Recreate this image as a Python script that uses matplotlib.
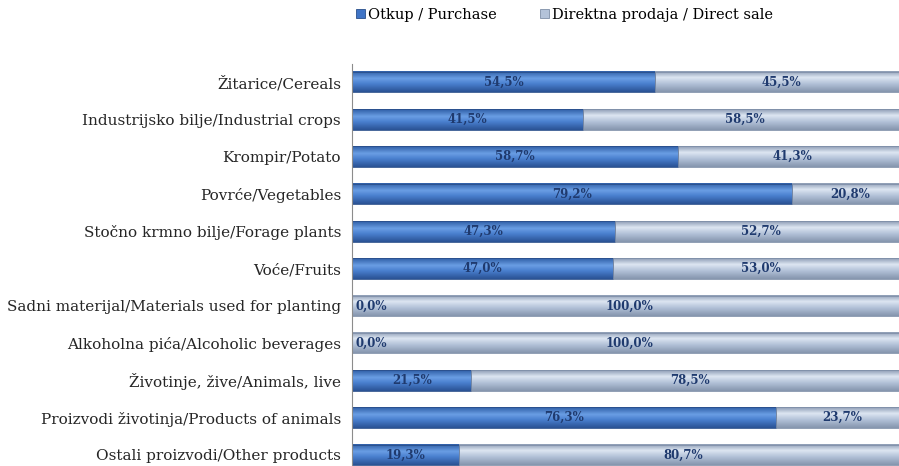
import matplotlib.pyplot as plt
import numpy as np
from matplotlib.colors import LinearSegmentedColormap

categories = ["Žitarice/Cereals", "Industrijsko bilje/Industrial crops", "Krompir/Potato",
              "Povrće/Vegetables", "Stočno krmno bilje/Forage plants", "Voće/Fruits",
              "Sadni materijal/Materials used for planting", "Alkoholna pića/Alcoholic beverages",
              "Životinje, žive/Animals, live", "Proizvodi životinja/Products of animals",
              "Ostali proizvodi/Other products"]
purchase = [54.5, 41.5, 58.7, 79.2, 47.3, 47.0, 0.0, 0.0, 21.5, 76.3, 19.3]
direct = [45.5, 58.5, 41.3, 20.8, 52.7, 53.0, 100.0, 100.0, 78.5, 23.7, 80.7]
series_names = ["Otkup / Purchase", "Direktna prodaja / Direct sale"]

plt.rcParams['font.family'] = ['DejaVu Serif', 'Liberation Serif']

# vertical gradients, top -> bottom
blue_cmap = LinearSegmentedColormap.from_list(
    "b", [(0, "#2f5ea6"), (0.35, "#6a9ee4"), (0.6, "#4a80cf"), (1, "#2a5294")])
gray_cmap = LinearSegmentedColormap.from_list(
    "g", [(0, "#8d9cb4"), (0.3, "#dde6f2"), (0.6, "#b3c2d8"), (1, "#8595ae")])

fig = plt.figure(figsize=(8.99, 4.66), dpi=100)
ax = fig.add_axes([0.3916, -0.0163, 0.618, 0.880])

y = np.arange(len(categories))
h = 0.55
b1 = ax.barh(y, purchase, height=h, color="#3f74c6", edgecolor="#2a4f8a", linewidth=0.6,
             label=series_names[0])
b2 = ax.barh(y, direct, left=purchase, height=h, color="#b4c3d9", edgecolor="#7f8fa8",
             linewidth=0.6, label=series_names[1])

grad = np.linspace(0, 1, 64).reshape(-1, 1)
for bars, cmap in [(b1, blue_cmap), (b2, gray_cmap)]:
    for p in bars:
        x0, y0 = p.get_x(), p.get_y()
        w, hh = p.get_width(), p.get_height()
        if w <= 0:
            continue
        ax.imshow(grad, cmap=cmap, aspect="auto", extent=[x0, x0 + w, y0 + hh, y0],
                  zorder=1.5, interpolation="bilinear")
        p.set_facecolor("none")
        p.set_zorder(2)

lbl = dict(va="center", fontsize=8.5, fontweight="bold", color="#1f3a6e", zorder=3)
for i in range(len(categories)):
    txt = f"{purchase[i]:.1f}%".replace(".", ",")
    if purchase[i] == 0:
        ax.text(0.6, y[i], txt, ha="left", **lbl)
    else:
        ax.text(purchase[i] / 2, y[i], txt, ha="center", **lbl)
    ax.text(purchase[i] + direct[i] / 2, y[i], f"{direct[i]:.1f}%".replace(".", ","),
            ha="center", **lbl)

ax.set_xlim(0, 100)
ax.set_ylim(len(categories) - 0.5, -0.5)
ax.set_yticks(y)
ax.set_yticklabels(categories, fontsize=11, color="#262626")
ax.tick_params(axis="y", length=0, pad=8)
ax.set_xticks([])
for s in ["top", "right", "bottom"]:
    ax.spines[s].set_visible(False)
ax.spines["left"].set_color("#8c8c8c")

fig.legend(handles=[b1, b2], labels=series_names, loc="center", bbox_to_anchor=(0.628, 0.968),
           ncol=2, frameon=False, fontsize=10.5, handlelength=0.6, handleheight=0.6,
           handletextpad=0.2, columnspacing=3.0)
leg = fig.legends[0]
leg.legend_handles[0].set_facecolor("#3f74c6")
leg.legend_handles[1].set_facecolor("#b4c3d9")

fig.savefig("out.png", dpi=100)
